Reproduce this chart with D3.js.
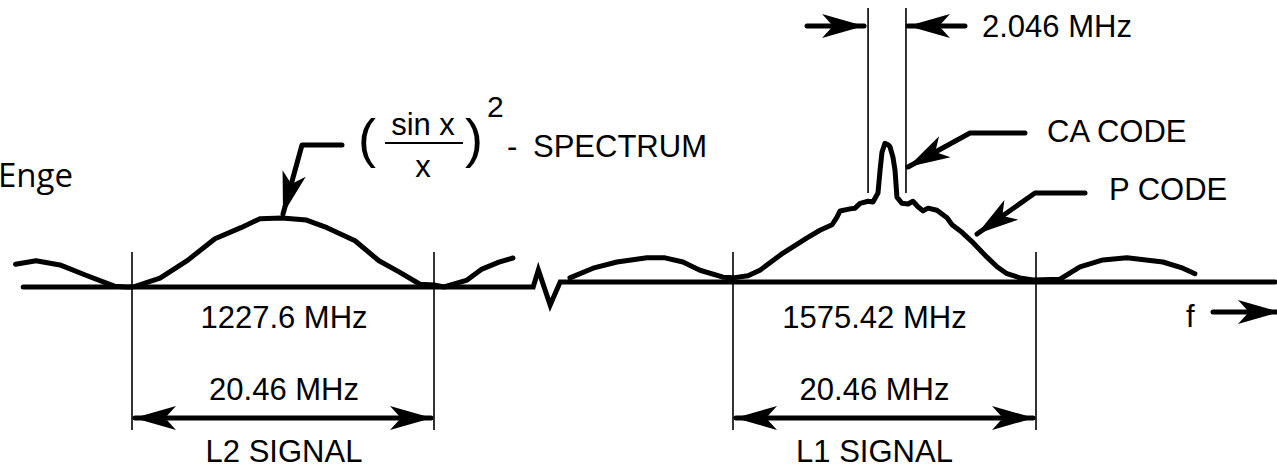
<!DOCTYPE html>
<html>
<head>
<meta charset="utf-8">
<script src="https://cdn.jsdelivr.net/npm/d3@7"></script>
<style>
  html, body { margin: 0; padding: 0; background: #fff; }
  svg { display: block; }
  text { font-family: "Liberation Sans", Arial, Helvetica, sans-serif; fill: #000; }
</style>
</head>
<body>
<div id="vis"></div>
<script>
// GPS L1 / L2 spectrum sketch

// band labels
var carriers = ["1227.6 MHz", "1575.42 MHz"];
var signalNames = ["L2 SIGNAL", "L1 SIGNAL"];
var bandwidthLabel = "20.46 MHz";
var caWidthLabel = "2.046 MHz";

// first nulls of the P code main lobe, offset from the carrier (MHz)
var nullOffsets = [-10.23, 10.23];

// CA code lobe edges as drawn (MHz offset from L1)
var caEdges = [-1.11, 1.45];

// L2 spectrum: [offset MHz, relative level]
var l2Spectrum = [
  [-18.12, 0.33], [-16.73, 0.38], [-15.11, 0.32], [-13.35, 0.17], [-11.38, 0.01],
  [-10.64, 0.0], [-10.16, 0.0], [-8.33, 0.13], [-6.44, 0.39], [-4.61, 0.70],
  [-2.85, 0.86], [-1.56, 0.99], [-0.07, 1.0], [1.59, 0.97], [2.98, 0.86],
  [4.88, 0.67], [6.50, 0.38], [7.86, 0.22], [9.28, 0.04], [10.23, 0.03],
  [10.91, 0.0], [12.47, 0.10], [13.48, 0.26], [14.63, 0.36], [15.58, 0.42]
];

// L1 spectrum: P code lobe with CA code spike on top
var l1Spectrum = [
  [-21.24, 0.06], [-19.68, 0.20], [-18.06, 0.29], [-16.04, 0.35], [-14.82, 0.35],
  [-13.61, 0.29], [-12.46, 0.17], [-10.90, 0.07], [-10.23, 0.06], [-9.22, 0.09],
  [-8.41, 0.17], [-6.85, 0.42], [-5.23, 0.64], [-4.36, 0.75], [-3.54, 0.83],
  [-3.21, 0.94], [-3.00, 1.03], [-2.33, 1.06], [-1.99, 1.07], [-1.65, 1.14],
  [-1.11, 1.17], [-0.78, 1.16], [-0.44, 1.29], [-0.30, 1.62], [-0.17, 1.88],
  [0.03, 2.01], [0.24, 1.99], [0.37, 1.96], [0.57, 1.81], [0.71, 1.62],
  [0.84, 1.23], [1.18, 1.14], [1.59, 1.13], [1.92, 1.17], [2.26, 1.09],
  [2.60, 1.03], [2.94, 1.07], [3.54, 1.04], [4.22, 0.93], [4.56, 0.83],
  [5.23, 0.72], [5.98, 0.57], [6.92, 0.36], [7.60, 0.22], [8.27, 0.12],
  [9.15, 0.06], [10.03, 0.03], [11.85, 0.04], [13.20, 0.22], [14.75, 0.32],
  [16.37, 0.35], [18.80, 0.29], [20.15, 0.20], [20.96, 0.12]
];

var width = 1277;
var height = 469;

var svg = d3.select("#vis").append("svg")
  .attr("width", width)
  .attr("height", height);

// one x and y scale per band (the axis is broken between them)
var xL2 = d3.scaleLinear().domain(nullOffsets).range([132, 434]);
var xL1 = d3.scaleLinear().domain(nullOffsets).range([733, 1036]);
var yL2 = d3.scaleLinear().domain([0, 1]).range([287, 218]);
var yL1 = d3.scaleLinear().domain([0, 1]).range([282, 213]);

var thick = 5;

// filled arrow head, tip at (x,y), pointing along angle a
function arrowHead(x, y, a, len, half) {
  len = len || 42;
  half = half || 12;
  var pts = [[0, 0], [-len, -half], [-len * 0.74, 0], [-len, half]];
  var c = Math.cos(a), s = Math.sin(a);
  var p = pts.map(function(d) {
    return [x + d[0] * c - d[1] * s, y + d[0] * s + d[1] * c];
  });
  svg.append("path")
    .attr("d", "M" + p.map(function(d) { return d.join(","); }).join("L") + "Z")
    .attr("fill", "#000");
}

// leader line ending in an arrow head
function leader(points, len, half) {
  svg.append("path")
    .attr("d", d3.line()(points))
    .attr("fill", "none")
    .attr("stroke", "#000")
    .attr("stroke-width", thick)
    .attr("stroke-linecap", "round")
    .attr("stroke-linejoin", "round");
  var n = points.length;
  var a = Math.atan2(points[n-1][1] - points[n-2][1], points[n-1][0] - points[n-2][0]);
  arrowHead(points[n-1][0], points[n-1][1], a, len, half);
}

function thin(x1, y1, x2, y2) {
  svg.append("line")
    .attr("x1", x1).attr("y1", y1)
    .attr("x2", x2).attr("y2", y2)
    .attr("stroke", "#000")
    .attr("stroke-width", 1.6);
}

function label(txt, x, y, anchor, size) {
  return svg.append("text")
    .attr("x", x).attr("y", y)
    .attr("text-anchor", anchor || "start")
    .style("font-size", (size || 31) + "px")
    .text(txt);
}

// frequency axis with break
var axisY2 = yL2(0), axisY1 = yL1(0);
svg.append("path")
  .attr("d", d3.line()([
    [xL2(-17.6), axisY2], [xL2(16.95), axisY2],
    [xL2(17.3), axisY2 - 17], [xL2(18.1), axisY2 + 18],
    [xL1(-21.9), axisY1], [width - 2, axisY1]
  ]))
  .attr("fill", "none")
  .attr("stroke", "#000")
  .attr("stroke-width", thick)
  .attr("stroke-linecap", "round")
  .attr("stroke-linejoin", "miter");

// spectra
var l2Line = d3.line().x(function(d) { return xL2(d[0]); }).y(function(d) { return yL2(d[1]); });
var l1Line = d3.line().x(function(d) { return xL1(d[0]); }).y(function(d) { return yL1(d[1]); });

[[l2Spectrum, l2Line], [l1Spectrum, l1Line]].forEach(function(s) {
  svg.append("path")
    .attr("d", s[1](s[0]))
    .attr("fill", "none")
    .attr("stroke", "#000")
    .attr("stroke-width", thick)
    .attr("stroke-linecap", "round")
    .attr("stroke-linejoin", "round");
});

// band edge lines and bandwidth dimensions
var dimY = 418;
var labelShift = [1, -10];
[xL2, xL1].forEach(function(x, i) {
  var a = x(nullOffsets[0]), b = x(nullOffsets[1]);
  thin(a, 252, a, 430);
  thin(b, 252, b, 430);
  var mid = (a + b) / 2 + labelShift[i];
  label(carriers[i], mid, 328, "middle");
  label(bandwidthLabel, mid, 400, "middle");
  label(signalNames[i], mid, 462, "middle");
  svg.append("line")
    .attr("x1", a + 3).attr("y1", dimY)
    .attr("x2", b - 3).attr("y2", dimY)
    .attr("stroke", "#000")
    .attr("stroke-width", thick)
    .attr("stroke-linecap", "round");
  arrowHead(a + 2, dimY, Math.PI);
  arrowHead(b - 2, dimY, 0);
});

// CA code width marks
var ca0 = xL1(caEdges[0]), ca1 = xL1(caEdges[1]);
thin(ca0, 8, ca0, 193);
thin(ca1, 8, ca1, 193);
leader([[ca0 - 61, 26], [ca0 - 4, 26]]);
leader([[ca1 + 59, 26], [ca1 + 2, 26]]);
label(caWidthLabel, 982, 37);

// (sin x / x)^2 - SPECTRUM
label("(", 358, 157, "start", 54);
label("sin x", 423, 135, "middle");
svg.append("line")
  .attr("x1", 385).attr("y1", 143)
  .attr("x2", 463).attr("y2", 143)
  .attr("stroke", "#000")
  .attr("stroke-width", 1.8);
label("x", 423, 177, "middle");
label(")", 465, 157, "start", 54);
label("2", 487, 117, "start", 30);
label("-", 507, 157);
label("SPECTRUM", 533, 157);
leader([[342, 145], [302, 145], [283, 214]]);

// code labels
label("CA CODE", 1047, 142);
leader([[1025, 133], [970, 133], [908, 167]]);
label("P CODE", 1109, 200);
leader([[1085, 193], [1035, 193], [977, 234]]);

// frequency direction
label("f", 1186, 327);
leader([[1213, 312], [1280, 312]]);

// stray caption fragment at the left edge (cut off in the source too)
svg.append("text")
  .attr("x", 73).attr("y", 187)
  .attr("text-anchor", "end")
  .style("font-family", "'Open Sans', sans-serif")
  .style("font-size", "33px")
  .text("Enge");
</script>
</body>
</html>
